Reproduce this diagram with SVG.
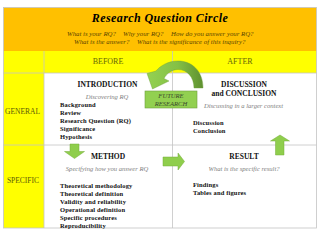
<svg xmlns="http://www.w3.org/2000/svg" width="320" height="240" viewBox="0 0 320 240">
<defs>
<linearGradient id="curveGrad" x1="0" y1="0" x2="1" y2="0">
<stop offset="0" stop-color="#94d152"/>
<stop offset="0.55" stop-color="#84c045"/>
<stop offset="1" stop-color="#5e9030"/>
</linearGradient>
<style>
.grid{stroke:#c4c4c4;stroke-width:0.8;fill:none}
.title{font-family:"Liberation Serif",serif;font-weight:bold;font-style:italic;font-size:12px;letter-spacing:0.4px;fill:#000;text-anchor:middle}
.q{font-family:"Liberation Serif",serif;font-style:italic;font-size:6.8px;fill:#5a4600}
.col{font-family:"Liberation Serif",serif;font-size:8px;fill:#66660a;text-anchor:middle}
.row{font-family:"Liberation Serif",serif;font-size:7.5px;fill:#5c5c08;text-anchor:middle}
.head{font-family:"Liberation Serif",serif;font-weight:bold;font-size:7.5px;fill:#111;text-anchor:middle}
.sub{font-family:"Liberation Serif",serif;font-style:italic;font-size:6.6px;fill:#808080;text-anchor:middle}
.item{font-family:"Liberation Serif",serif;font-weight:bold;font-size:6.5px;letter-spacing:0.15px;fill:#111}
.fr{font-family:"Liberation Serif",serif;font-style:italic;font-size:6.6px;fill:#3c4a2c;text-anchor:middle}
.arrow{fill:#8fce4c;stroke:#74ad38;stroke-width:0.5}
</style>
</defs>
<rect x="3.5" y="7.5" width="313" height="220.5" fill="#ffffff"/>
<rect x="3.5" y="7.5" width="313" height="43.5" fill="#ffc000"/>
<rect x="3.5" y="51" width="313" height="22" fill="#ffff00"/>
<rect x="3.5" y="73" width="40.5" height="155" fill="#ffff00"/>
<g id="grid">
<line class="grid" x1="44" y1="51" x2="44" y2="228"/>
<line class="grid" x1="172.5" y1="51" x2="172.5" y2="228"/>
<line class="grid" x1="3.5" y1="73" x2="316.5" y2="73"/>
<line class="grid" x1="3.5" y1="145" x2="316.5" y2="145"/>
<rect class="grid" x="3.5" y="7.5" width="313" height="220.5"/>
</g>
<g id="header">
<text class="title" x="160" y="22">Research Question Circle</text>
<text class="q" x="67" y="35.5">What is your RQ?</text>
<text class="q" x="123" y="35.5">Why your RQ?</text>
<text class="q" x="171" y="35.5">How do you answer your RQ?</text>
<text class="q" x="74" y="44">What is the answer?</text>
<text class="q" x="137" y="44">What is the significance of this inquiry?</text>
</g>
<g id="col-before"><text class="col" x="108" y="64">BEFORE</text></g>
<g id="col-after"><text class="col" x="240" y="64">AFTER</text></g>
<g id="row-general"><text class="row" x="22.5" y="113.5">GENERAL</text></g>
<g id="row-specific"><text class="row" x="23" y="182.5">SPECIFIC</text></g>
<g id="introduction">
<text class="head" x="107.5" y="87">INTRODUCTION</text>
<text class="sub" x="107" y="99">Discovering RQ</text>
<text class="item" x="60" y="107">Background</text>
<text class="item" x="60" y="115">Review</text>
<text class="item" x="60" y="123">Research Question (RQ)</text>
<text class="item" x="60" y="131">Significance</text>
<text class="item" x="60" y="139">Hypothesis</text>
</g>
<g id="discussion">
<text class="head" x="244" y="87">DISCUSSION</text>
<text class="head" x="244" y="95.5">and CONCLUSION</text>
<text class="sub" x="243.5" y="107.5">Discussing in a larger context</text>
<text class="item" x="193" y="124.5">Discussion</text>
<text class="item" x="193" y="132.5">Conclusion</text>
</g>
<g id="method">
<text class="head" x="108" y="158.5">METHOD</text>
<text class="sub" x="107" y="170.5">Specifying how you answer RQ</text>
<text class="item" x="60" y="187.5">Theoretical methodology</text>
<text class="item" x="60" y="195.7">Theoretical definition</text>
<text class="item" x="60" y="203.9">Validity and reliability</text>
<text class="item" x="60" y="212.1">Operational definition</text>
<text class="item" x="60" y="220.3">Specific procedures</text>
<text class="item" x="60" y="228.3">Reproducibility</text>
</g>
<g id="result">
<text class="head" x="244" y="158.5">RESULT</text>
<text class="sub" x="244" y="171">What is the specific result?</text>
<text class="item" x="193" y="186.5">Findings</text>
<text class="item" x="193" y="195">Tables and figures</text>
</g>
<g id="connectors">
<path d="M203 88 C203 71 192 61 178 61 C168 61 160 66 156 71 L147 73.5 L152.5 89 L169 81 L164 78.5 C167 73 172 69.5 178 69.5 C187 69.5 194 77 194 88 Z" fill="url(#curveGrad)" stroke="#6a9c38" stroke-width="0.4"/>
<polygon class="arrow" points="70,144 79,144 79,151.5 84.5,151.5 74.5,158.5 64.5,151.5 70,151.5"/>
<polygon class="arrow" points="163,157 178,157 178,153 184.5,161.5 178,170 178,166 163,166"/>
<polygon class="arrow" points="275.5,155 284,155 284,141 289.5,141 280,135 270.5,141 275.5,141"/>
</g>
<g id="future-research">
<rect x="145" y="91" width="52" height="17" fill="#92d050" stroke="#6f9f3f" stroke-width="0.6"/>
<text class="fr" x="171" y="98">FUTURE</text>
<text class="fr" x="171" y="105.5">RESEARCH</text>
</g>
</svg>
